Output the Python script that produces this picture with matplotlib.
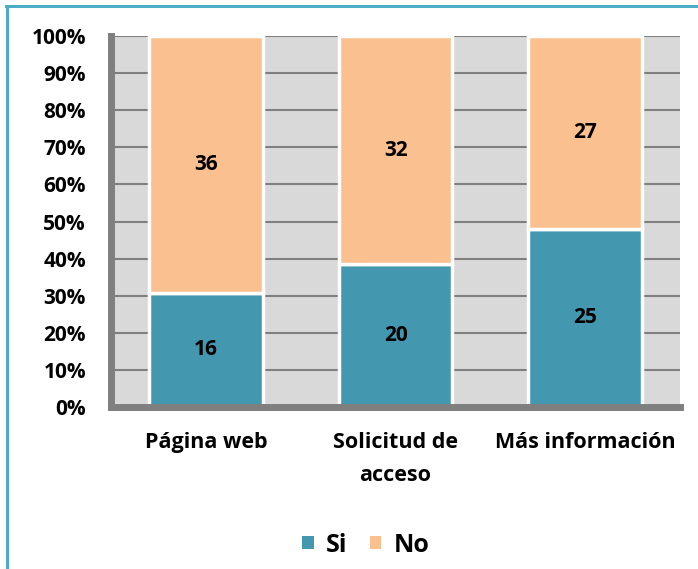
import matplotlib
matplotlib.use('Agg')
import matplotlib.pyplot as plt
from matplotlib.lines import Line2D
from matplotlib.patches import Patch
import numpy as np

categories = ['Página web', 'Solicitud de\nacceso', 'Más información']
si_counts = [16, 20, 25]
no_counts = [36, 32, 27]
series_names = ['Si', 'No']
colors = ['#4397ae', '#fac090']

plt.rcParams['font.family'] = ['Open Sans', 'DejaVu Sans']

si = np.array(si_counts, dtype=float)
no = np.array(no_counts, dtype=float)
total = si + no
si_share = si / total
no_share = no / total

fig = plt.figure(figsize=(6.98, 5.69), dpi=100)
ax = fig.add_axes([111 / 698, 1 - 407 / 569, (680 - 111) / 698, (407 - 36) / 569])
ax.set_facecolor('#d9d9d9')

x = np.arange(len(categories))
width = 0.6
ax.bar(x, si_share, width, color=colors[0], edgecolor='white', linewidth=2.5, zorder=3)
ax.bar(x, no_share, width, bottom=si_share, color=colors[1], edgecolor='white',
       linewidth=2.5, zorder=3)

for i in range(len(categories)):
    ax.text(x[i], si_share[i] / 2, f'{si_counts[i]:.0f}', ha='center', va='center',
            fontsize=15, fontweight='bold', zorder=4)
    ax.text(x[i], si_share[i] + no_share[i] / 2, f'{no_counts[i]:.0f}', ha='center',
            va='center', fontsize=15, fontweight='bold', zorder=4)

ax.set_xlim(-0.501, 2.5)
ax.set_ylim(0, 1)
ax.set_yticks(np.arange(0, 1.01, 0.1))
ax.set_yticklabels([f'{v}%' for v in range(0, 101, 10)])
ax.set_xticks(x)
ax.set_xticklabels(categories, linespacing=1.75)
ax.tick_params(axis='y', length=0, pad=18, labelsize=15)
ax.tick_params(axis='x', length=0, pad=18, labelsize=15.5)
for lbl in ax.get_xticklabels() + ax.get_yticklabels():
    lbl.set_fontweight('bold')

ax.yaxis.grid(True, color='#7f7f7f', linewidth=1.5, zorder=1)
ax.set_axisbelow(True)
for side in ['top', 'right']:
    ax.spines[side].set_visible(False)
for side in ['left', 'bottom']:
    ax.spines[side].set_color('#7f7f7f')
    ax.spines[side].set_linewidth(5)
    ax.spines[side].set_zorder(5)

handles = [Patch(facecolor=c, edgecolor='none') for c in colors]
fig.legend(handles, series_names, loc='center', bbox_to_anchor=(366 / 698, 1 - 545 / 569),
           ncol=2, frameon=False, handlelength=0.45, handleheight=0.45, handletextpad=0.5,
           columnspacing=0.9, prop={'weight': 'bold', 'size': 18})

# outer frame of the chart area
fig.add_artist(Line2D([7 / 698, 7 / 698], [0, 1 - 6 / 569], color='#4bacc6',
                      linewidth=2.2, transform=fig.transFigure))
fig.add_artist(Line2D([6 / 698, 1], [1 - 6 / 569, 1 - 6 / 569], color='#4bacc6',
                      linewidth=2.2, transform=fig.transFigure))

fig.savefig('out.png', dpi=100, facecolor='white')
